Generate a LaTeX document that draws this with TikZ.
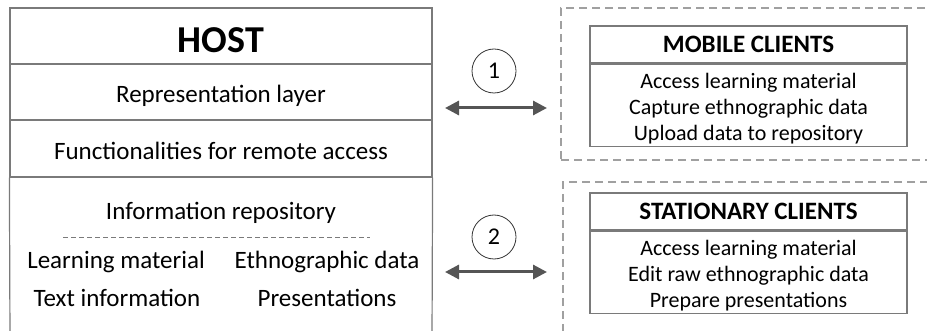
\documentclass[tikz,border=0pt]{standalone}
\usepackage{fontspec}
\setmainfont{Carlito}
\usetikzlibrary{arrows.meta}

\definecolor{boxgray}{HTML}{7A7A7A}
\definecolor{dashgray}{HTML}{A0A0A0}
\definecolor{arrowgray}{HTML}{555555}

\tikzset{
  hostrow/.style={draw=boxgray,line width=1.2pt,minimum width=422pt,inner sep=0pt,
    font=\fontsize{25}{26}\selectfont,text height=22pt,text depth=0pt},
  txt/.style={font=\fontsize{25}{26}\selectfont,inner sep=0pt,align=center},
  clienthead/.style={draw=boxgray,line width=1.2pt,minimum width=317pt,minimum height=37pt,
    inner sep=0pt,font=\fontsize{25}{26}\bfseries\selectfont},
  clientbody/.style={draw=boxgray,line width=1.2pt,minimum width=317pt,minimum height=82pt,
    inner sep=0pt},
  itemlist/.style={inner sep=0pt,align=center,font=\fontsize{22}{26}\selectfont},
  groupbox/.style={draw=dashgray,line width=1.2pt,dash pattern=on 8pt off 5pt},
  numcircle/.style={circle,draw=black!80,line width=0.8pt,minimum size=44pt,inner sep=0pt,
    font=\fontsize{24}{24}\selectfont},
  biarrow/.style={arrowgray,line width=3pt,
    {Triangle[length=14pt,width=14pt]}-{Triangle[length=14pt,width=14pt]}}
}

\begin{document}
\begin{tikzpicture}[x=1pt,y=-1pt]
  \path[use as bounding box,clip] (0,0) rectangle (927,331);

  % host
  \node[hostrow,minimum height=56pt,font=\fontsize{38}{40}\bfseries\selectfont,text height=34pt] (host) at (221,36){HOST};
  \node[hostrow,minimum height=56pt] (rep) at (221,92){Representation layer};
  \node[hostrow,minimum height=57pt] (func) at (221,148.5){Functionalities for remote access};
  \coordinate (hostbl) at (10,340);
  \coordinate (hostbr) at (432,340);
  \draw[boxgray,line width=1.2pt] (func.south west) -- (hostbl);
  \draw[boxgray,line width=1.2pt] (func.south east) -- (hostbr);

  \node[txt] (repo) at (221,213){Information repository};
  \coordinate (sepl) at (63,237);
  \coordinate (sepr) at (370,237);
  \draw[boxgray,line width=0.8pt,dash pattern=on 5pt off 3pt] (sepl) -- (sepr);
  \node[txt] (learn) at (116,262){Learning material};
  \node[txt] (ethno) at (327,262){Ethnographic data};
  \node[txt] (textinfo) at (117,298){Text information};
  \node[txt] (pres) at (327,298){Presentations};

  % clients
  \node[groupbox,minimum width=379pt,minimum height=152pt] (mobgrp) at (750.5,84){};
  \node[groupbox,minimum width=377pt,minimum height=170pt] (statgrp) at (751.5,267){};

  \node[clienthead] (mobhead) at (748.5,44.5){MOBILE CLIENTS};
  \node[clientbody,anchor=north] (mobbody) at (mobhead.south){};
  \node[itemlist] (mobitems) at ([yshift=-3pt]mobbody.center){Access learning material\\Capture ethnographic data\\Upload data to repository};

  \node[clienthead] (stathead) at (748.5,211.5){STATIONARY CLIENTS};
  \node[clientbody,anchor=north] (statbody) at (stathead.south){};
  \node[itemlist] (statitems) at ([yshift=-3pt]statbody.center){Access learning material\\Edit raw ethnographic data\\Prepare presentations};

  % links
  \node[numcircle] (one) at (494,71){1};
  \node[numcircle] (two) at (494,237){2};
  \coordinate (a1l) at (445,108);
  \coordinate (a1r) at (547,108);
  \coordinate (a2l) at (445,272);
  \coordinate (a2r) at (547,272);
  \draw[biarrow] (a1l) -- (a1r);
  \draw[biarrow] (a2l) -- (a2r);
\end{tikzpicture}
\end{document}
